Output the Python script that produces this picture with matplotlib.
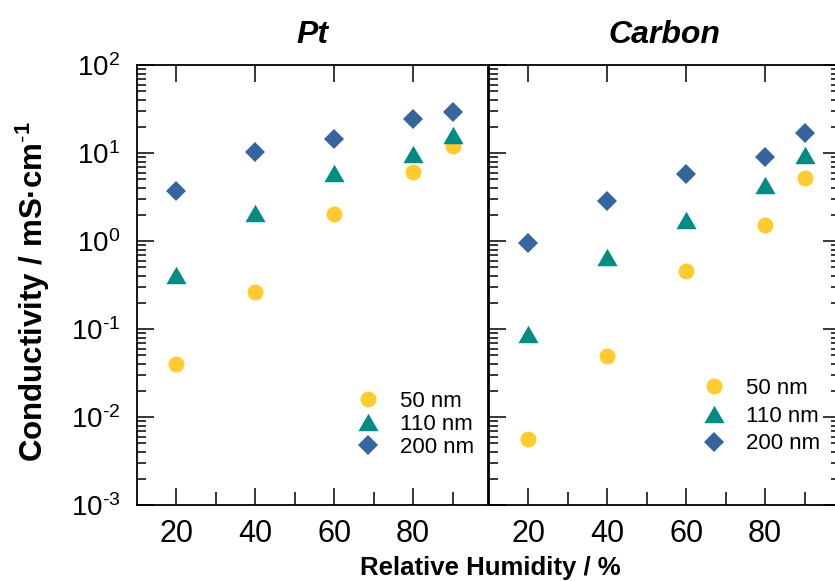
import numpy as np
import matplotlib
matplotlib.use('Agg')
import matplotlib.pyplot as plt
from matplotlib import ticker
from matplotlib import font_manager as fm

# relative humidity (%) and conductivity (mS/cm)
rh = [20, 40, 60, 80, 90]

pt_50 = [0.040, 0.26, 2.05, 6.1, 12.0]
pt_110 = [0.41, 2.1, 5.9, 9.8, 16.0]
pt_200 = [3.7, 10.3, 14.4, 24.2, 29.0]

c_50 = [0.0056, 0.049, 0.46, 1.53, 5.15]
c_110 = [0.088, 0.66, 1.73, 4.3, 9.6]
c_200 = [0.94, 2.87, 5.8, 9.0, 17.0]

labels = ['50 nm', '110 nm', '200 nm']
panel_titles = ['Pt', 'Carbon']
ytick_vals = [1e-3, 1e-2, 1e-1, 1e0, 1e1, 1e2]
ytick_text = [r'$\mathregular{10^{\text{-}3}}$', r'$\mathregular{10^{\text{-}2}}$',
              r'$\mathregular{10^{\text{-}1}}$', r'$\mathregular{10^{0}}$',
              r'$\mathregular{10^{1}}$', r'$\mathregular{10^{2}}$']

plt.rcParams['font.family'] = ['Liberation Sans', 'DejaVu Sans']
plt.rcParams['mathtext.fontset'] = 'custom'
plt.rcParams['mathtext.rm'] = 'Liberation Sans'
plt.rcParams['mathtext.bf'] = 'Liberation Sans:bold'

names = {f.name for f in fm.fontManager.ttflist}
narrow = 'Liberation Sans Narrow' if 'Liberation Sans Narrow' in names else 'Liberation Sans'

yellow = '#FFCB30'
teal = '#008B84'
blue = '#35659C'
tri = [(-1, -0.866), (1, -0.866), (0, 0.866)]
styles = [dict(marker='o', color=yellow, ms=11.5),
          dict(marker=tri, color=teal, ms=14.5),
          dict(marker='D', color=blue, ms=10.5)]

W, H = 835, 581
fig = plt.figure(figsize=(W / 100, H / 100), dpi=100)
ax_l = 137 / W
ax_w = 351 / W
ax_b = 1 - 505 / H
ax_h = 440 / H
ax1 = fig.add_axes([ax_l, ax_b, ax_w, ax_h])
ax2 = fig.add_axes([ax_l + ax_w + 1 / W, ax_b, ax_w, ax_h], sharey=ax1)

data = [[pt_50, pt_110, pt_200], [c_50, c_110, c_200]]

for i, ax in enumerate([ax1, ax2]):
    for ys, st, lab in zip(data[i], styles, labels):
        ax.plot(rh, ys, linestyle='none', marker=st['marker'], color=st['color'],
                markersize=st['ms'], markeredgewidth=0, label=lab)
    ax.set_yscale('log')
    ax.set_ylim(1e-3, 1e2)
    ax.set_xlim(10, 99)
    ax.set_xticks([20, 40, 60, 80])
    ax.set_xticks([30, 50, 70, 90], minor=True)
    ax.yaxis.set_major_locator(ticker.FixedLocator(ytick_vals))
    ax.yaxis.set_minor_locator(ticker.LogLocator(base=10, subs=np.arange(2, 10), numticks=30))
    ax.yaxis.set_minor_formatter(ticker.NullFormatter())
    for s in ax.spines.values():
        s.set_linewidth(1.3)
    ax.tick_params(which='both', direction='in', width=1.1, colors='black')
    ax.tick_params(axis='x', which='major', length=12, top=True, bottom=True,
                   labelsize=22, pad=10)
    ax.tick_params(axis='x', which='minor', length=9.5, top=False, bottom=True)
    ax.tick_params(axis='y', which='major', length=12)
    ax.tick_params(axis='y', which='minor', length=6.5)
    for t in ax.get_xticklabels():
        t.set_fontfamily(narrow)
    ax.set_title(panel_titles[i], fontsize=23, fontweight='bold', fontstyle='italic', pad=16)

ax1.yaxis.set_major_formatter(ticker.FixedFormatter(ytick_text))
ax1.tick_params(axis='y', which='both', left=True, right=False, labelsize=20, pad=12)
ax2.tick_params(axis='y', which='both', left=True, right=True, labelleft=False)

ax1.legend(loc='center left', bbox_to_anchor=(0.627, 0.183), frameon=False, fontsize=16,
           handlelength=1.0, handletextpad=0.95, labelspacing=0.1, borderpad=0, borderaxespad=0)
ax2.legend(loc='center left', bbox_to_anchor=(0.608, 0.202), frameon=False, fontsize=16,
           handlelength=1.0, handletextpad=0.95, labelspacing=0.3, borderpad=0, borderaxespad=0)

fig.text(33 / W, 1 - 292 / H, r'Conductivity / mS·cm$^{\mathbf{\text{-}1}}$', rotation=90,
         ha='center', va='center', fontsize=22.5, fontweight='bold')
fig.text(490 / W, 1 - 568 / H, 'Relative Humidity / %', ha='center', va='center',
         fontsize=18.5, fontweight='bold', fontfamily=narrow)

fig.savefig('out.png', dpi=100)
